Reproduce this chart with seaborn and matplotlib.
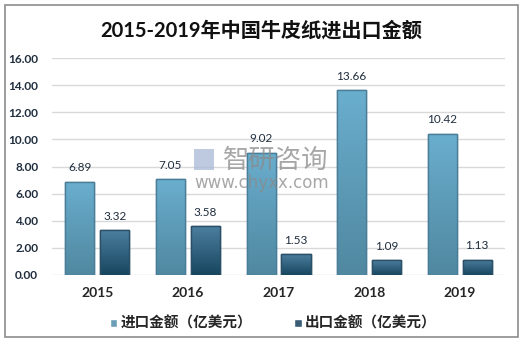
import numpy as np
import pandas as pd
import matplotlib
matplotlib.use("Agg")
import matplotlib.pyplot as plt
import seaborn as sns
from matplotlib.colors import LinearSegmentedColormap
from matplotlib.patches import Rectangle

years = ["2015", "2016", "2017", "2018", "2019"]
imports = [6.89, 7.05, 9.02, 13.66, 10.42]
exports = [3.32, 3.58, 1.53, 1.09, 1.13]
series_names = ["进口金额（亿美元）", "出口金额（亿美元）"]
title = "2015-2019年中国牛皮纸进出口金额"
yticks = [0, 2, 4, 6, 8, 10, 12, 14, 16]

sns.set_theme(style="white")
plt.rcParams['font.family'] = ['Lato', 'Noto Sans CJK SC', 'DejaVu Sans']

df = pd.DataFrame({
    "year": years * 2,
    "value": imports + exports,
    "series": [series_names[0]] * len(years) + [series_names[1]] * len(years),
})

base_colors = ["#5FA4C4", "#2E5E7E"]
grad = {
    0: ["#6AAECE", "#5088A0"],
    1: ["#4C7E9E", "#17465F"],
}
edge_colors = ["#4A7E98", "#2A4F66"]

fig = plt.figure(figsize=(5.26, 3.42), dpi=100)
ax = fig.add_axes([0.099, 0.196, 0.861, 0.634])

sns.barplot(data=df, x="year", y="value", hue="series", palette=base_colors,
            width=0.772, gap=0.17, ax=ax, legend=True, zorder=3)

ax.set_ylim(0, 16)
ax.set_xlim(-0.5, 4.5)
ax.set_yticks(yticks)
ax.set_yticklabels([f"{v:.2f}" for v in yticks], fontsize=8.5, fontweight="bold", color="#1F2D3D")
ax.tick_params(axis="x", labelsize=10, pad=9, length=0)
ax.tick_params(axis="y", length=0, pad=10)
for lab in ax.get_xticklabels():
    lab.set_fontweight("bold")
    lab.set_color("#262626")
ax.set_xlabel("")
ax.set_ylabel("")
ax.yaxis.grid(True, color="#D9D9D9", linewidth=1, zorder=0)
ax.set_axisbelow(True)
for s in ax.spines.values():
    s.set_visible(False)

# gradients and edges
for i, container in enumerate(ax.containers):
    c0, c1 = grad[i]
    cmap = LinearSegmentedColormap.from_list(f"g{i}", [c1, c0])
    for p in container.patches:
        p.set_edgecolor(edge_colors[i])
        p.set_linewidth(1)
        x0, y0 = p.get_x(), p.get_y()
        w, h = p.get_width(), p.get_height()
        img = ax.imshow(np.linspace(0, 1, 100).reshape(-1, 1), cmap=cmap,
                        extent=[x0, x0 + w, y0, y0 + h], origin="lower",
                        aspect="auto", zorder=3.5)
        img.set_clip_path(p)
        edge = Rectangle((x0, y0), w, h, fill=False, edgecolor=edge_colors[i],
                         linewidth=1, zorder=3.6)
        ax.add_patch(edge)
    ax.bar_label(container, fmt="%.2f", padding=6, fontsize=8.5, color="#1F2D3D", zorder=5)

ax.set_aspect("auto")
ax.set_xlim(-0.5, 4.5)
ax.set_ylim(0, 16)

# legend
handles, labels = ax.get_legend_handles_labels()
leg = ax.legend(handles, labels, loc="center", bbox_to_anchor=(0.488, -0.225), ncol=2,
                frameon=False, fontsize=10.5, handlelength=0.5, handleheight=0.5,
                handletextpad=0.2, columnspacing=2.9)
for t in leg.get_texts():
    t.set_fontweight("bold")
    t.set_color("#262626")

# title
fig.text(0.497, 0.912, title, ha="center", va="center", fontsize=14.5,
         fontweight="bold", color="#111111")

# outer border
fig.patches.append(Rectangle((5 / 526, 5 / 342), 513 / 526, 332 / 342,
                             transform=fig.transFigure, fill=False,
                             edgecolor="#8C8C8C", linewidth=1.2))

# watermark
fig.text(276 / 526, 1 - 160 / 342, "智研咨询", ha="center", va="center", fontsize=19,
         color="#8A8A8A", alpha=0.75, zorder=10)
fig.text(262 / 526, 1 - 183 / 342, "www.chyxx.com", ha="center", va="center", fontsize=12,
         family="DejaVu Sans", color="#8A8A8A", alpha=0.75, zorder=10)
fig.patches.append(Rectangle((194 / 526, 1 - 170 / 342), 20 / 526, 21 / 342,
                             transform=fig.transFigure, facecolor="#A9B9D6",
                             edgecolor="none", alpha=0.75, zorder=10))

fig.savefig("out.png", dpi=100)
